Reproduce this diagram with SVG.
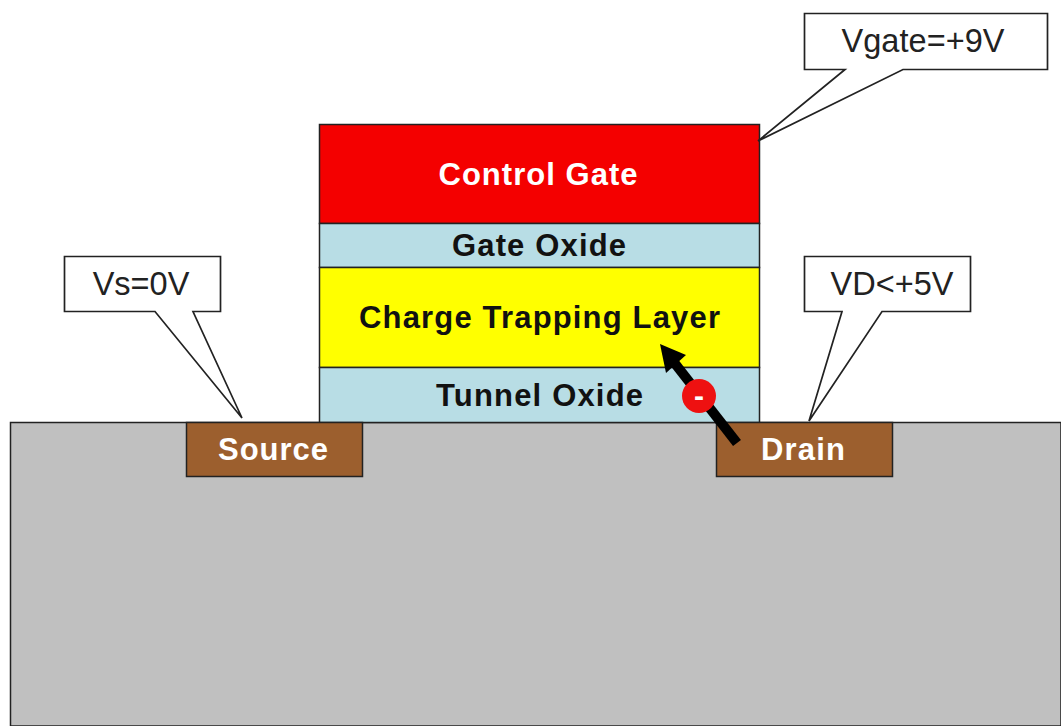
<svg xmlns="http://www.w3.org/2000/svg" width="1061" height="726" viewBox="0 0 1061 726">
<defs>
<style>
.ln{stroke:#222;stroke-width:1.5}
text{font-family:"Liberation Sans",Arial,sans-serif}
.b{font-weight:bold;font-size:31px;text-anchor:middle}
.w{fill:#fff}
.k{fill:#111}
.c{fill:#fff;stroke:#222;stroke-width:1.7}
.t{font-size:32.500px;fill:#222;text-anchor:middle}
</style>
</defs>
<rect width="1061" height="726" fill="#fff"/>
<g id="substrate"><path d="M10.500 726V422.500H1061V726Z" fill="#c0c0c0" class="ln"/></g>
<g id="control-gate"><rect x="319.500" y="124.500" width="440" height="99" fill="#f40000" class="ln"/><text class="b w" x="538" y="185" textLength="199" lengthAdjust="spacing">Control Gate</text></g>
<g id="gate-oxide"><rect x="319.500" y="223.500" width="440" height="44" fill="#b8dde5" class="ln"/><text class="b k" x="539" y="256" textLength="174" lengthAdjust="spacing">Gate Oxide</text></g>
<g id="charge-trapping-layer"><rect x="319.500" y="267.500" width="440" height="100" fill="#ffff00" class="ln"/><text class="b k" x="539.500" y="328" textLength="361" lengthAdjust="spacing">Charge Trapping Layer</text></g>
<g id="tunnel-oxide"><rect x="319.500" y="367.500" width="440" height="55" fill="#b8dde5" class="ln"/><text class="b k" x="539.500" y="406" textLength="207" lengthAdjust="spacing">Tunnel Oxide</text></g>
<g id="source"><rect x="186.500" y="422.500" width="176" height="54" fill="#9c5f2e" class="ln"/><text class="b w" x="273" y="460" textLength="110" lengthAdjust="spacing">Source</text></g>
<g id="drain"><rect x="716.500" y="422.500" width="176" height="54" fill="#9c5f2e" class="ln"/><text class="b w" x="803" y="460" textLength="84" lengthAdjust="spacing">Drain</text></g>
<g id="connectors">
<path d="M737 443L673 361" stroke="#000" stroke-width="10" fill="none"/>
<path d="M660 344L686 355L666 373Z" fill="#000"/>
</g>
<g id="electron"><circle cx="699" cy="396" r="17" fill="#ee1111"/><text x="699" y="406" font-size="30" font-weight="bold" class="w" text-anchor="middle">-</text></g>
<g id="vgate"><path class="c" d="M804.500 13.500H1047.500V69.500H903L758 141L845 69.500H804.500Z"/><text class="t" x="923" y="52" textLength="163" lengthAdjust="spacing">Vgate=+9V</text></g>
<g id="vs"><path class="c" d="M64.500 256.500H220.500V311.500H193L242 418L155 311.500H64.500Z"/><text class="t" x="141" y="295">Vs=0V</text></g>
<g id="vd"><path class="c" d="M804.500 256.500H970.500V311.500H882L809 421L842 311.500H804.500Z"/><text class="t" x="892" y="295">VD&lt;+5V</text></g>
</svg>
